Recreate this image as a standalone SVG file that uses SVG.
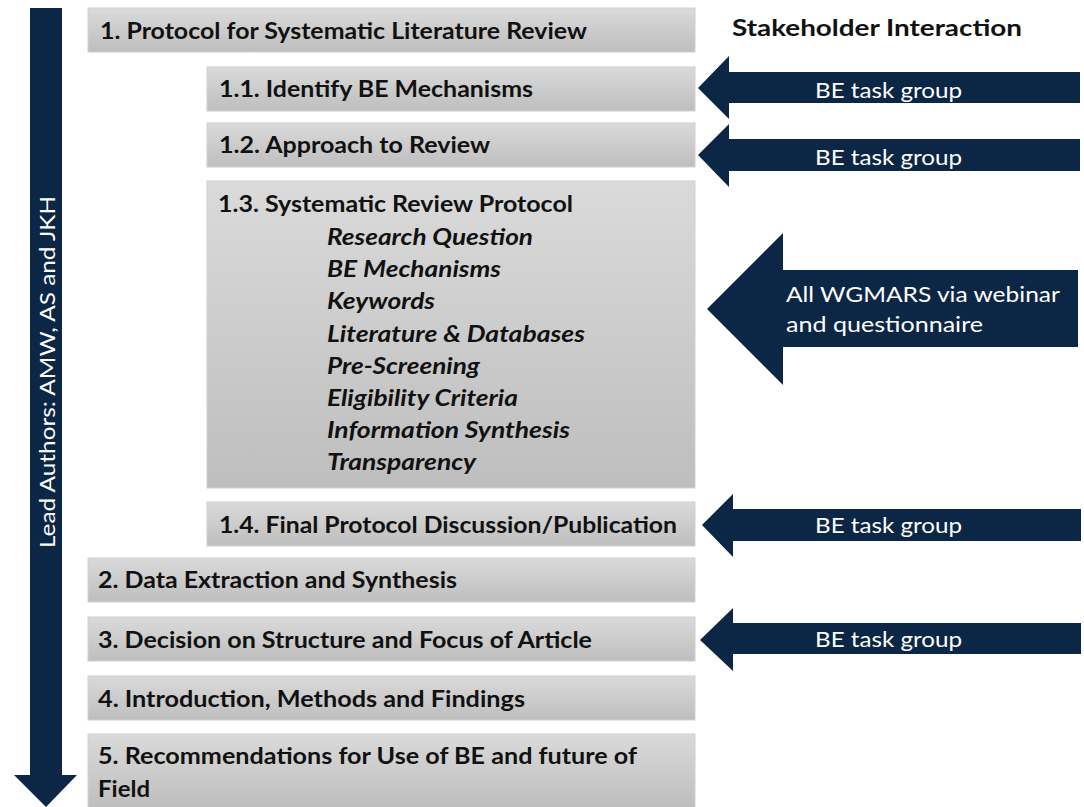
<svg xmlns="http://www.w3.org/2000/svg" width="1084" height="807" viewBox="0 0 1084 807">
<defs>
<linearGradient id="g" x1="0" y1="0" x2="0" y2="1">
<stop offset="0" stop-color="#dadada"/>
<stop offset="1" stop-color="#bebebe"/>
</linearGradient>
<style>
.box{fill:url(#g);stroke:#d0d0d0;stroke-width:1}
.t{font-family:Lato,"Open Sans","Liberation Sans",sans-serif;font-weight:bold;font-size:22px;fill:#111}
.i{font-family:Lato,"Open Sans","Liberation Sans",sans-serif;font-weight:bold;font-style:italic;font-size:22px;fill:#111}
.w{font-family:Lato,"Open Sans","Liberation Sans",sans-serif;font-size:22px;fill:#fff}
.arr{fill:#0c2646}
</style>
</defs>
<rect width="1084" height="807" fill="#fff"/>

<g id="connectors">
<g id="lead-arrow">
<polygon class="arr" points="30,8 62,8 62,775 77,775 46,807 14,775 30,775"/>
<text class="w" transform="translate(55,548) rotate(-90)" textLength="352" lengthAdjust="spacingAndGlyphs">Lead Authors: AMW, AS and JKH</text>
</g>
<g id="arrow-1-1">
<polygon class="arr" points="698,88 729,56 729,72 1080,72 1080,103 729,103 729,119"/>
<text class="w" x="815" y="98" textLength="147" lengthAdjust="spacingAndGlyphs">BE task group</text>
</g>
<g id="arrow-1-2">
<polygon class="arr" points="698,155 729,124 729,139 1080,139 1080,171 729,171 729,187"/>
<text class="w" x="815" y="165" textLength="147" lengthAdjust="spacingAndGlyphs">BE task group</text>
</g>
<g id="arrow-1-3">
<polygon class="arr" points="707,309 783,233 783,270 1078,270 1078,347 783,347 783,385"/>
<text class="w" x="786" y="302" textLength="274" lengthAdjust="spacingAndGlyphs">All WGMARS via webinar</text>
<text class="w" x="786" y="332" textLength="197" lengthAdjust="spacingAndGlyphs">and questionnaire</text>
</g>
<g id="arrow-1-4">
<polygon class="arr" points="702,525 733,494 733,509 1081,509 1081,541 733,541 733,557"/>
<text class="w" x="815" y="533" textLength="147" lengthAdjust="spacingAndGlyphs">BE task group</text>
</g>
<g id="arrow-3">
<polygon class="arr" points="700,640 733,608 733,623 1081,623 1081,654 733,654 733,671"/>
<text class="w" x="815" y="647" textLength="147" lengthAdjust="spacingAndGlyphs">BE task group</text>
</g>
</g>

<g id="title">
<text class="t" x="732" y="36" textLength="290" lengthAdjust="spacingAndGlyphs">Stakeholder Interaction</text>
</g>

<g id="n1">
<rect class="box" x="88" y="8" width="607" height="44"/>
<text class="t" x="100" y="39" textLength="487" lengthAdjust="spacingAndGlyphs">1. Protocol for Systematic Literature Review</text>
</g>
<g id="n1-1">
<rect class="box" x="207" y="67" width="488" height="44"/>
<text class="t" x="219" y="97" textLength="314" lengthAdjust="spacingAndGlyphs">1.1. Identify BE Mechanisms</text>
</g>
<g id="n1-2">
<rect class="box" x="207" y="123" width="488" height="44"/>
<text class="t" x="219" y="153" textLength="271" lengthAdjust="spacingAndGlyphs">1.2. Approach to Review</text>
</g>
<g id="n1-3">
<rect class="box" x="207" y="181" width="488" height="307"/>
<text class="t" x="218" y="212" textLength="355" lengthAdjust="spacingAndGlyphs">1.3. Systematic Review Protocol</text>
<text class="i" x="327" y="245" textLength="206" lengthAdjust="spacingAndGlyphs">Research Question</text>
<text class="i" x="327" y="277" textLength="174" lengthAdjust="spacingAndGlyphs">BE Mechanisms</text>
<text class="i" x="327" y="309" textLength="108" lengthAdjust="spacingAndGlyphs">Keywords</text>
<text class="i" x="327" y="342" textLength="258" lengthAdjust="spacingAndGlyphs">Literature &amp; Databases</text>
<text class="i" x="327" y="374" textLength="153" lengthAdjust="spacingAndGlyphs">Pre-Screening</text>
<text class="i" x="327" y="406" textLength="191" lengthAdjust="spacingAndGlyphs">Eligibility Criteria</text>
<text class="i" x="327" y="438" textLength="243" lengthAdjust="spacingAndGlyphs">Information Synthesis</text>
<text class="i" x="327" y="470" textLength="149" lengthAdjust="spacingAndGlyphs">Transparency</text>
</g>
<g id="n1-4">
<rect class="box" x="207" y="502" width="488" height="44"/>
<text class="t" x="219" y="533" textLength="458" lengthAdjust="spacingAndGlyphs">1.4. Final Protocol Discussion/Publication</text>
</g>
<g id="n2">
<rect class="box" x="88" y="558" width="607" height="44"/>
<text class="t" x="98" y="588" textLength="359" lengthAdjust="spacingAndGlyphs">2. Data Extraction and Synthesis</text>
</g>
<g id="n3">
<rect class="box" x="88" y="617" width="607" height="44"/>
<text class="t" x="98" y="648" textLength="494" lengthAdjust="spacingAndGlyphs">3. Decision on Structure and Focus of Article</text>
</g>
<g id="n4">
<rect class="box" x="88" y="676" width="607" height="44"/>
<text class="t" x="98" y="707" textLength="427" lengthAdjust="spacingAndGlyphs">4. Introduction, Methods and Findings</text>
</g>
<g id="n5">
<rect class="box" x="88" y="734" width="607" height="74"/>
<text class="t" x="98" y="764" textLength="539" lengthAdjust="spacingAndGlyphs">5. Recommendations for Use of BE and future of</text>
<text class="t" x="98" y="797" textLength="52" lengthAdjust="spacingAndGlyphs">Field</text>
</g>
</svg>
